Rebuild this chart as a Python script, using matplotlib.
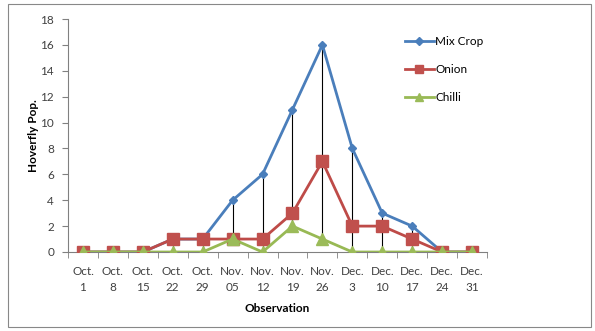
import matplotlib
matplotlib.use("Agg")
import matplotlib.pyplot as plt
from matplotlib.patches import Rectangle

plt.rcParams['font.family'] = ['Lato', 'DejaVu Sans']

categories = ["Oct.\n1", "Oct.\n8", "Oct.\n15", "Oct.\n22", "Oct.\n29", "Nov.\n05", "Nov.\n12",
              "Nov.\n19", "Nov.\n26", "Dec.\n3", "Dec.\n10", "Dec.\n17", "Dec.\n24", "Dec.\n31"]
mix_crop = [0, 0, 0, 1, 1, 4, 6, 11, 16, 8, 3, 2, 0, 0]
onion = [0, 0, 0, 1, 1, 1, 1, 3, 7, 2, 2, 1, 0, 0]
chilli = [0, 0, 0, 0, 0, 1, 0, 2, 1, 0, 0, 0, 0, 0]

fig = plt.figure(figsize=(5.95, 3.31), dpi=100)
ax = fig.add_axes([68 / 595, 1 - 252 / 331, (487 - 68) / 595, (252 - 19) / 331])

x = list(range(len(categories)))

# high-low lines across the three series
for i in x:
    vals = [mix_crop[i], onion[i], chilli[i]]
    lo, hi = min(vals), max(vals)
    if hi > lo:
        ax.plot([i, i], [lo, hi], color="black", lw=0.8, zorder=1)

ax.plot(x, mix_crop, color="#4A7EBB", lw=2.0, marker="D", ms=4.5,
        markerfacecolor="#4A7EBB", markeredgecolor="#4A7EBB", label="Mix Crop", zorder=2)
ax.plot(x, onion, color="#BE4B48", lw=2.0, marker="s", ms=8,
        markerfacecolor="#C0504D", markeredgecolor="#C0504D", label="Onion", zorder=3)
ax.plot(x, chilli, color="#98B954", lw=2.0, marker="^", ms=8,
        markerfacecolor="#9BBB59", markeredgecolor="#9BBB59", label="Chilli", zorder=4)

ax.set_xlim(-0.5, len(categories) - 0.5)
ax.set_ylim(0, 18)
ax.set_yticks(range(0, 19, 2))
ax.set_xticks(x)
ax.set_xticklabels(categories, fontsize=8.5, color="#404040", linespacing=1.55)
ax.set_xticks([i + 0.5 for i in range(-1, len(categories))], minor=True)
ax.tick_params(axis="x", which="major", length=0, pad=10)
ax.tick_params(axis="x", which="minor", length=4, color="#808080", direction="out")
ax.tick_params(axis="y", labelsize=8.5, labelcolor="#404040", length=4, color="#808080", pad=6)

for side in ("top", "right"):
    ax.spines[side].set_visible(False)
for side in ("left", "bottom"):
    ax.spines[side].set_color("#808080")
    ax.spines[side].set_linewidth(0.8)

ax.set_ylabel("Hoverfly Pop.", fontsize=8.5, fontweight="bold", labelpad=1)
ax.set_xlabel("Observation", fontsize=8.5, fontweight="bold", labelpad=7)

leg = ax.legend(loc="upper left", bbox_to_anchor=((400 - 68) / (487 - 68), 1 - (31 - 19) / (252 - 19)),
                frameon=False, fontsize=8.5, handlelength=2.5, handletextpad=0.1,
                labelspacing=1.45, borderaxespad=0, markerscale=0.8)
leg.set_clip_on(False)

fig.patches.append(Rectangle((8 / 595, 1 - 327 / 331), 583 / 595, 323 / 331,
                             transform=fig.transFigure, fill=False,
                             edgecolor="#888888", lw=0.8))

fig.savefig("out.png", dpi=100)
